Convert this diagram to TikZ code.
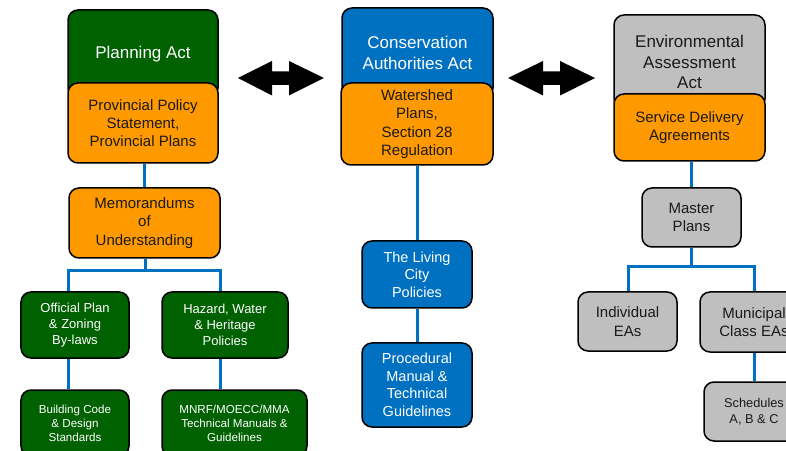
\documentclass[tikz,border=0pt]{standalone}
\usepackage{fontspec}
\setmainfont{Liberation Sans}
\definecolor{dgreen}{HTML}{006100}
\definecolor{cblue}{HTML}{0070C0}
\definecolor{corange}{HTML}{FF9900}
\definecolor{cgray}{HTML}{BFBFBF}
\definecolor{dtext}{HTML}{1A1A1A}
\tikzset{
  box/.style={draw=black, line width=1.5bp, rounded corners=10bp, align=center, inner sep=0pt},
  gbox/.style={box, fill=dgreen, text=white},
  bbox/.style={box, fill=cblue, text=white},
  obox/.style={box, fill=corange, text=dtext},
  ybox/.style={box, fill=cgray, text=dtext},
  big/.style={font=\fontsize{17bp}{20.5bp}\selectfont},
  mid/.style={font=\fontsize{15bp}{18.3bp}\selectfont},
  lcf/.style={font=\fontsize{14.5bp}{17.5bp}\selectfont},
  sml/.style={font=\fontsize{13bp}{15.7bp}\selectfont},
  tiny/.style={font=\fontsize{11.6bp}{14bp}\selectfont},
  sch/.style={font=\fontsize{12.8bp}{15.7bp}\selectfont},
  conn/.style={draw=cblue, line width=3bp},
  darr/.style={fill=black},
}
\begin{document}
\begin{tikzpicture}[x=1bp,y=-1bp]
\useasboundingbox (0,0) rectangle (786,451);
\clip (0,0) rectangle (786,451);
\fill[white] (0,0) rectangle (786,451);

% ---------- connectors (drawn first, under boxes) ----------
\coordinate (jL) at (145,271);
\coordinate (jR) at (691,267);

% left column
\node[gbox, big, minimum width=150bp, minimum height=88bp] (pa) at (143,54) {Planning Act};
\node[obox, mid, minimum width=150bp, minimum height=80bp] (pps) at (143,123) {Provincial Policy\\Statement,\\Provincial Plans};
\node[obox, mid, minimum width=151bp, minimum height=70bp] (mou) at (144.5,223) {Memorandums\\of\\Understanding};
\node[gbox, sml, minimum width=108bp, minimum height=66bp] (op) at (75,325) {Official Plan\\\& Zoning\\By-laws};
\node[gbox, sml, minimum width=126bp, minimum height=66bp] (hz) at (225,325) {Hazard, Water\\\& Heritage\\Policies};
\node[gbox, tiny, minimum width=108bp, minimum height=66bp] (bc) at (75,423) {Building Code\\\& Design\\Standards};
\node[gbox, tiny, minimum width=145bp, minimum height=66bp] (mn) at (234.5,423) {MNRF/MOECC/MMA\\Technical Manuals \&\\Guidelines};

% middle column
\node[bbox, big, minimum width=151bp, minimum height=90bp] (ca) at (417.5,53) {Conservation\\Authorities Act};
\node[obox, mid, minimum width=152bp, minimum height=82bp] (ws) at (417,124) {Watershed\\Plans,\\Section 28\\Regulation};
\node[bbox, lcf, minimum width=110bp, minimum height=67bp] (lc) at (417,274.5) {The Living\\City\\Policies};
\node[bbox, lcf, minimum width=110bp, minimum height=84bp] (pm) at (417,385) {Procedural\\Manual \&\\Technical\\Guidelines};

% right column
\node[ybox, big, minimum width=151bp, minimum height=94bp] (ea) at (689.5,62) {Environmental\\Assessment\\Act};
\node[obox, mid, minimum width=151bp, minimum height=67bp] (sd) at (689.5,127.5) {Service Delivery\\Agreements};
\node[ybox, mid, minimum width=99bp, minimum height=59bp] (mp) at (691.5,217.5) {Master\\Plans};
\node[ybox, mid, minimum width=99bp, minimum height=59bp] (ie) at (627.5,321.5) {Individual\\EAs};
\node[ybox, mid, minimum width=108bp, minimum height=60bp] (mc) at (754,322) {Municipal\\Class EAs};
\node[ybox, sch, minimum width=100bp, minimum height=59bp] (sc) at (754,411.5) {Schedules\\A, B \& C};

% ---------- connectors ----------
\begin{scope}[on background layer/.try]
\end{scope}
\draw[conn] (mou.north |- pps.south) -- (mou.north);
\draw[conn] (mou.south -| jL) -- (jL);
\draw[conn] (op.north -| 68,0) |- (jL) -| (hz.north -| 220,0);
\draw[conn] (op.south -| 68,0) -- (bc.north -| 68,0);
\draw[conn] (hz.south -| 220,0) -- (mn.north -| 220,0);

\draw[conn] (ws.south -| lc.north) -- (lc.north);
\draw[conn] (lc.south) -- (pm.north);

\draw[conn] (sd.south -| jR) -- (mp.north -| jR);
\draw[conn] (mp.south -| jR) -- (jR);
\draw[conn] (ie.north -| 628,0) |- (jR) -| (mc.north);
\draw[conn] (mc.south) -- (sc.north);

% ---------- double arrows ----------
\fill[darr] (238,78) -- (272,61) -- (272,71.5) -- (289,71.5) -- (289,61) -- (324,78)
  -- (289,95.5) -- (289,85) -- (272,85) -- (272,95.5) -- cycle;
\fill[darr] (508,78) -- (543,61) -- (543,71.5) -- (560,71.5) -- (560,61) -- (595,78)
  -- (560,95.5) -- (560,85) -- (543,85) -- (543,95.5) -- cycle;
\end{tikzpicture}
\end{document}
